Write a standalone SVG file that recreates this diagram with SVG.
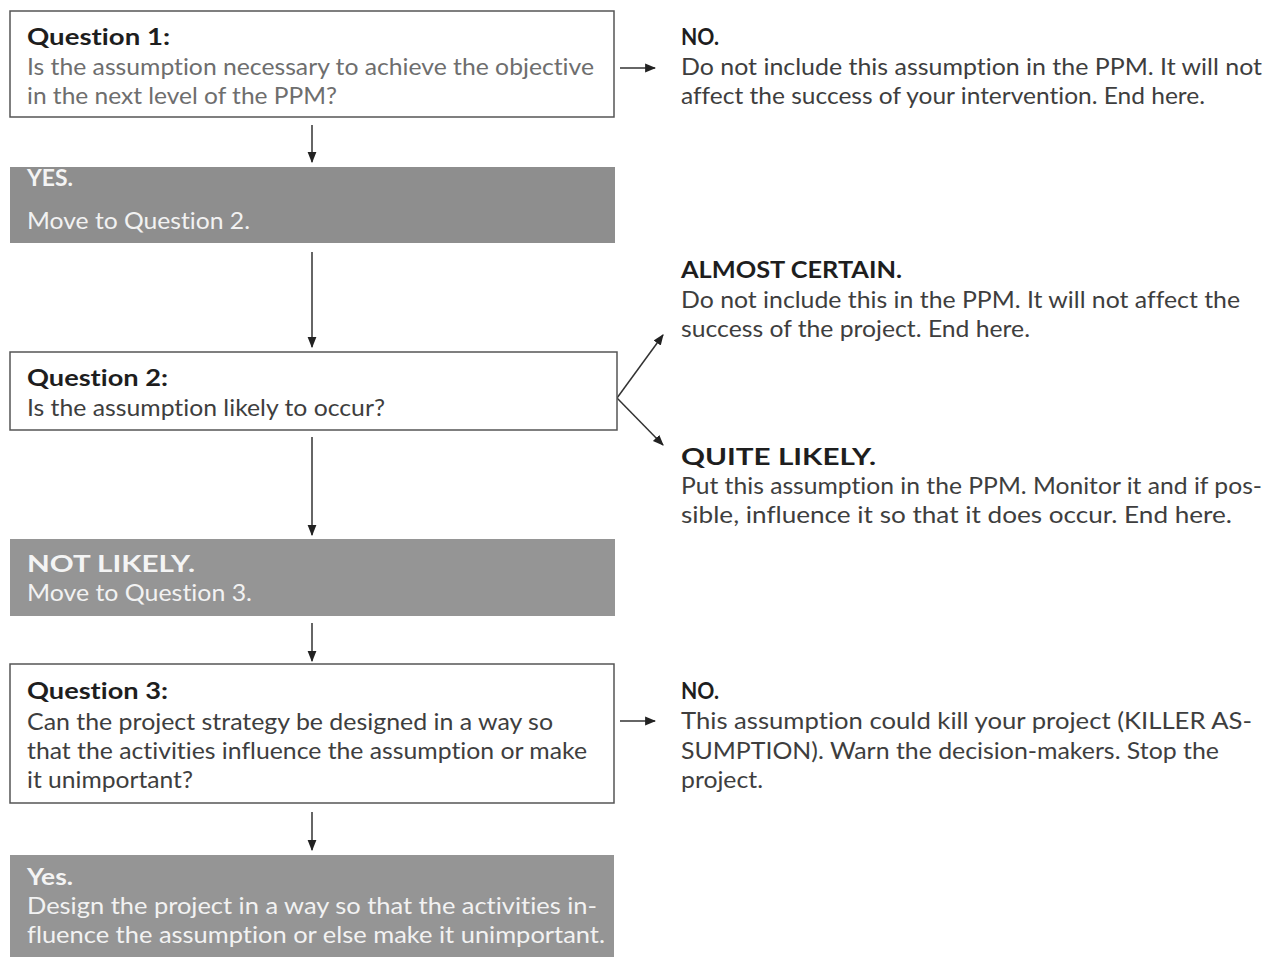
<svg xmlns="http://www.w3.org/2000/svg" width="1267" height="957" viewBox="0 0 1267 957">
<defs>
<style>
text{font-family:Lato,"Open Sans","Liberation Sans",sans-serif;font-size:23px;font-variant-ligatures:none}
.h{font-weight:700;fill:#1e1e1e}
.b{fill:#3e3e3e}
.bl{fill:#6e6e6e}
.wh{font-weight:700;fill:#f4f4f4}
.w{fill:#f2f2f2}
.box{fill:#fff;stroke:#555;stroke-width:1.5}
.gbox{fill:#959595;stroke:none}
.c{stroke:#333;stroke-width:1.5;fill:none}
</style>
<marker id="ah" viewBox="0 0 10 10" refX="9" refY="5" markerWidth="11" markerHeight="11" markerUnits="userSpaceOnUse" orient="auto">
<path d="M0,1 L10,5 L0,9 Z" fill="#222"/>
</marker>
</defs>
<rect width="1267" height="957" fill="#fff"/>

<g id="connectors">
<line class="c" x1="312" y1="125" x2="312" y2="162" marker-end="url(#ah)"/>
<line class="c" x1="312" y1="252" x2="312" y2="347" marker-end="url(#ah)"/>
<line class="c" x1="312" y1="437" x2="312" y2="535" marker-end="url(#ah)"/>
<line class="c" x1="312" y1="623" x2="312" y2="661" marker-end="url(#ah)"/>
<line class="c" x1="312" y1="812" x2="312" y2="850" marker-end="url(#ah)"/>
<line class="c" x1="620" y1="68" x2="655" y2="68" marker-end="url(#ah)"/>
<line class="c" x1="620" y1="721" x2="655" y2="721" marker-end="url(#ah)"/>
<line class="c" x1="617" y1="398" x2="663" y2="335" marker-end="url(#ah)"/>
<line class="c" x1="617" y1="398" x2="663" y2="445" marker-end="url(#ah)"/>
</g>

<g id="q1">
<rect class="box" x="10" y="11" width="604" height="106"/>
<text class="h" x="27" y="45" textLength="143" lengthAdjust="spacingAndGlyphs">Question 1:</text>
<text class="bl" x="27" y="75" textLength="567" lengthAdjust="spacingAndGlyphs">Is the assumption necessary to achieve the objective</text>
<text class="bl" x="27" y="104" textLength="310" lengthAdjust="spacingAndGlyphs">in the next level of the PPM?</text>
</g>

<g id="no1">
<text class="h" x="681" y="45" textLength="38" lengthAdjust="spacingAndGlyphs">NO.</text>
<text class="b" x="681" y="75" textLength="581" lengthAdjust="spacingAndGlyphs">Do not include this assumption in the PPM. It will not</text>
<text class="b" x="681" y="104" textLength="524" lengthAdjust="spacingAndGlyphs">affect the success of your intervention. End here.</text>
</g>

<g id="yes1">
<rect x="10" y="167" width="605" height="76" style="fill:#8e8e8e"/>
<text class="wh" x="27" y="186" textLength="46" lengthAdjust="spacingAndGlyphs">YES.</text>
<text class="w" x="27" y="229" textLength="223" lengthAdjust="spacingAndGlyphs">Move to Question 2.</text>
</g>

<g id="certain">
<text class="h" x="681" y="278" textLength="221" lengthAdjust="spacingAndGlyphs">ALMOST CERTAIN.</text>
<text class="b" x="681" y="308" textLength="559" lengthAdjust="spacingAndGlyphs">Do not include this in the PPM. It will not affect the</text>
<text class="b" x="681" y="337" textLength="349" lengthAdjust="spacingAndGlyphs">success of the project. End here.</text>
</g>

<g id="q2">
<rect class="box" x="10" y="352" width="607" height="78"/>
<text class="h" x="27" y="386" textLength="141" lengthAdjust="spacingAndGlyphs">Question 2:</text>
<text class="b" x="27" y="416" textLength="358" lengthAdjust="spacingAndGlyphs">Is the assumption likely to occur?</text>
</g>

<g id="likely">
<text class="h" x="681" y="465" textLength="195" lengthAdjust="spacingAndGlyphs">QUITE LIKELY.</text>
<text class="b" x="681" y="494" textLength="581" lengthAdjust="spacingAndGlyphs">Put this assumption in the PPM. Monitor it and if pos-</text>
<text class="b" x="681" y="523" textLength="551" lengthAdjust="spacingAndGlyphs">sible, influence it so that it does occur. End here.</text>
</g>

<g id="notlikely">
<rect class="gbox" x="10" y="539" width="605" height="77"/>
<text class="wh" x="27" y="572" textLength="168" lengthAdjust="spacingAndGlyphs">NOT LIKELY.</text>
<text class="w" x="27" y="601" textLength="225" lengthAdjust="spacingAndGlyphs">Move to Question 3.</text>
</g>

<g id="q3">
<rect class="box" x="10" y="664" width="604" height="139"/>
<text class="h" x="27" y="699" textLength="141" lengthAdjust="spacingAndGlyphs">Question 3:</text>
<text class="b" x="27" y="730" textLength="526" lengthAdjust="spacingAndGlyphs">Can the project strategy be designed in a way so</text>
<text class="b" x="27" y="759" textLength="560" lengthAdjust="spacingAndGlyphs">that the activities influence the assumption or make</text>
<text class="b" x="27" y="788" textLength="166" lengthAdjust="spacingAndGlyphs">it unimportant?</text>
</g>

<g id="no3">
<text class="h" x="681" y="699" textLength="38" lengthAdjust="spacingAndGlyphs">NO.</text>
<text class="b" x="681" y="729" textLength="571" lengthAdjust="spacingAndGlyphs">This assumption could kill your project (KILLER AS-</text>
<text class="b" x="681" y="759" textLength="538" lengthAdjust="spacingAndGlyphs">SUMPTION). Warn the decision-makers. Stop the</text>
<text class="b" x="681" y="788" textLength="82" lengthAdjust="spacingAndGlyphs">project.</text>
</g>

<g id="yes3">
<rect class="gbox" x="10" y="855" width="604" height="102"/>
<text class="wh" x="27" y="885" textLength="46" lengthAdjust="spacingAndGlyphs">Yes.</text>
<text class="w" x="27" y="914" textLength="570" lengthAdjust="spacingAndGlyphs">Design the project in a way so that the activities in-</text>
<text class="w" x="27" y="943" textLength="578" lengthAdjust="spacingAndGlyphs">fluence the assumption or else make it unimportant.</text>
</g>
</svg>
